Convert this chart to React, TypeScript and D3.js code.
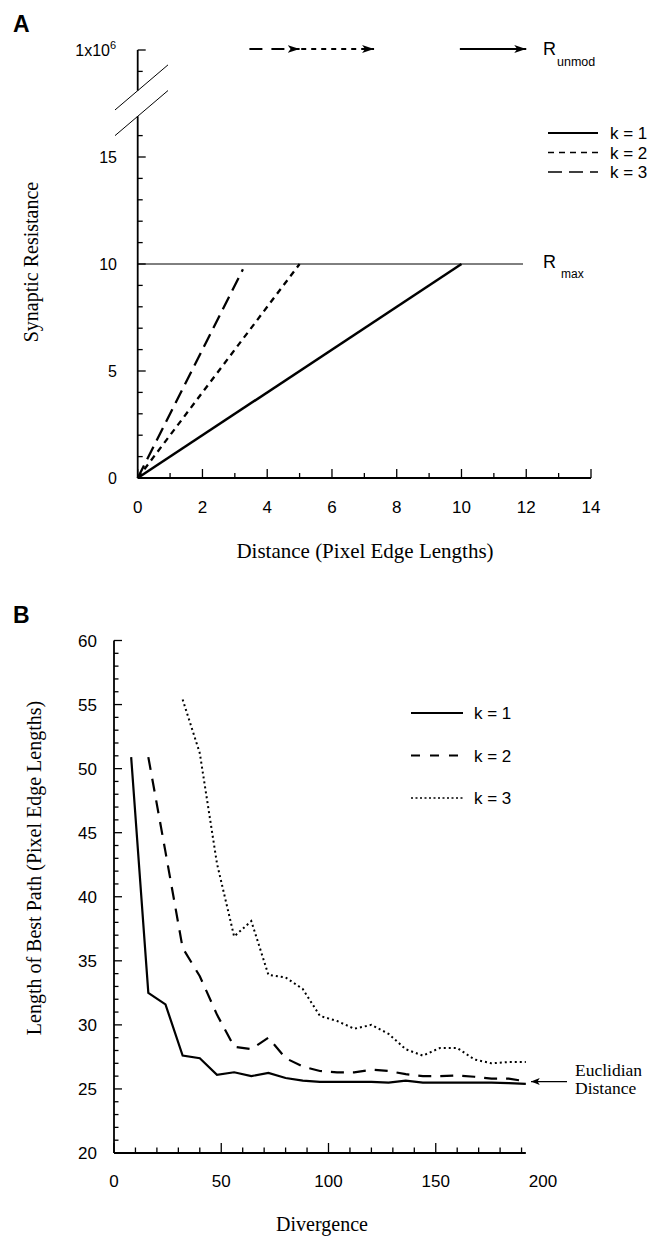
import React from 'react';
import * as d3 from 'd3';

const W = 659;
const H = 1239;

// ---------- Panel A data ----------
const kLabels = ['k = 1', 'k = 2', 'k = 3'];
const distK1 = [0, 10];
const resK1 = [0, 10];
const distK2 = [0, 5];
const resK2 = [0, 10];
const distK3 = [0, 3.25];
const resK3 = [0, 9.75];
const rMax = 10;
const rMaxEnd = 11.9;
const unmodValue = 20; // axis position standing for 1x10^6
const unmodArrowStart = [9.95, 5.05, 3.45]; // k=1, k=2, k=3
const unmodArrowEnd = [12.0, 7.3, 5.0];
const xTicksA = [0, 2, 4, 6, 8, 10, 12, 14];
const yTicksA = [0, 5, 10, 15];
const breakLow = 16.9;
const breakHigh = 18.1;

// ---------- Panel B data ----------
const divergenceK1 = [8, 16, 24, 32, 40, 48, 56, 64, 72, 80, 88, 96, 104, 112, 120, 128, 136, 144, 152, 160, 168, 176, 184, 192];
const pathK1 = [50.9, 32.5, 31.6, 27.6, 27.4, 26.1, 26.3, 26.0, 26.25, 25.85, 25.65, 25.55, 25.55, 25.55, 25.55, 25.5, 25.65, 25.5, 25.5, 25.5, 25.5, 25.5, 25.45, 25.4];
const divergenceK2 = [16, 24, 32, 40, 48, 56, 64, 72, 80, 88, 96, 104, 112, 120, 128, 136, 144, 152, 160, 168, 176, 184, 192];
const pathK2 = [50.9, 43.5, 36.0, 33.8, 30.8, 28.3, 28.1, 29.0, 27.4, 26.75, 26.4, 26.3, 26.3, 26.5, 26.4, 26.15, 26.0, 26.0, 26.05, 25.95, 25.8, 25.8, 25.6];
const divergenceK3 = [32, 40, 48, 56, 64, 72, 80, 88, 96, 104, 112, 120, 128, 136, 144, 152, 160, 168, 176, 184, 192];
const pathK3 = [55.4, 51.2, 42.6, 36.9, 38.1, 33.9, 33.7, 32.8, 30.7, 30.3, 29.7, 30.0, 29.3, 28.1, 27.6, 28.2, 28.2, 27.3, 27.0, 27.1, 27.1];
const euclidian = 25.5;
const xTicksB = [0, 50, 100, 150, 200];
const yTicksB = [20, 25, 30, 35, 40, 45, 50, 55, 60];
const xAxisEndB = 192;

const SANS = '"Liberation Sans", Arial, Helvetica, sans-serif';
const SERIF = '"Liberation Serif", "Times New Roman", serif';

export default function App() {
  // Panel A scales
  const xA = d3.scaleLinear().domain([0, 14]).range([137.7, 591]);
  const yA = d3.scaleLinear().domain([0, 20]).range([478, 50]);
  // Panel B scales
  const xB = d3.scaleLinear().domain([0, 200]).range([114, 543]);
  const yB = d3.scaleLinear().domain([20, 60]).range([1153, 640.5]);

  const lineA = d3.line<[number, number]>().x(d => xA(d[0])).y(d => yA(d[1]));
  const lineB = d3.line<[number, number]>().x(d => xB(d[0])).y(d => yB(d[1]));

  const zip = (a: number[], b: number[]) => a.map((v, i) => [v, b[i]] as [number, number]);

  const dashA = ['none', '6,5', '14,7'];
  const dashB = ['none', '13,9', '2,3'];
  const seriesA = [zip(distK1, resK1), zip(distK2, resK2), zip(distK3, resK3)];
  const seriesB = [zip(divergenceK1, pathK1), zip(divergenceK2, pathK2), zip(divergenceK3, pathK3)];

  const ax0 = xA(0);
  const ay0 = yA(0);
  const bx0 = xB(0);
  const by0 = yB(20);

  const minorYA = d3.range(0, 21).filter(v => v !== 17 && v !== 18);
  const minorXA = d3.range(0, 15);
  const minorYB = d3.range(20, 61);
  const minorXB = d3.range(0, 191, 10);

  const breakY1 = yA(breakHigh);
  const breakY2 = yA(breakLow);

  return (
    <svg width={W} height={H} style={{ position: 'absolute', left: 0, top: 0, background: '#fff' }}>
      <defs>
        <marker id="ah" viewBox="0 0 12 8" refX="12" refY="4" markerWidth="12" markerHeight="8" markerUnits="userSpaceOnUse" orient="auto">
          <path d="M0,0 L12,4 L0,8 L3,4 z" fill="#000" />
        </marker>
        <marker id="ahs" viewBox="0 0 10 8" refX="10" refY="4" markerWidth="9" markerHeight="7" markerUnits="userSpaceOnUse" orient="auto">
          <path d="M0,0 L10,4 L0,8 L2.5,4 z" fill="#000" />
        </marker>
      </defs>

      {/* ================= Panel A ================= */}
      <text x={13} y={32} fontFamily={SANS} fontWeight="bold" fontSize={23}>A</text>

      {/* y axis with break */}
      <line x1={ax0} x2={ax0} y1={ay0} y2={breakY2} stroke="#000" strokeWidth={1.8} />
      <line x1={ax0} x2={ax0} y1={breakY1} y2={yA(unmodValue)} stroke="#000" strokeWidth={1.8} />
      {[breakY1, breakY2].map((yy, i) => (
        <line key={i} x1={ax0 - 22.7} y1={yy + 19.3} x2={ax0 + 30.3} y2={yy - 25.8} stroke="#000" strokeWidth={1} />
      ))}
      {minorYA.map(v => (
        <line key={v} x1={ax0} x2={ax0 + (v % 5 === 0 ? 8 : 5)} y1={yA(v)} y2={yA(v)} stroke="#000" strokeWidth={1.3} />
      ))}
      {yTicksA.map(v => (
        <text key={v} x={117} y={yA(v) + 6} textAnchor="end" fontFamily={SANS} fontSize={16}>{v}</text>
      ))}
      <text x={110} y={yA(unmodValue) + 6} textAnchor="end" fontFamily={SANS} fontSize={16}>1x10</text>
      <text x={110} y={yA(unmodValue) - 1} fontFamily={SANS} fontSize={11}>6</text>

      {/* x axis */}
      <line x1={ax0} x2={xA(14)} y1={ay0} y2={ay0} stroke="#000" strokeWidth={1.8} />
      {minorXA.map(v => (
        <line key={v} x1={xA(v)} x2={xA(v)} y1={ay0} y2={ay0 - (v % 2 === 0 ? 9 : 5)} stroke="#000" strokeWidth={1.3} />
      ))}
      {xTicksA.map(v => (
        <text key={v} x={xA(v)} y={ay0 + 35} textAnchor="middle" fontFamily={SANS} fontSize={17}>{v}</text>
      ))}
      <text x={365} y={558} textAnchor="middle" fontFamily={SERIF} fontSize={21}>Distance (Pixel Edge Lengths)</text>
      <text transform={`translate(38,262) rotate(-90)`} textAnchor="middle" fontFamily={SERIF} fontSize={20}>Synaptic Resistance</text>

      {/* R max line */}
      <line x1={ax0} x2={xA(rMaxEnd)} y1={yA(rMax)} y2={yA(rMax)} stroke="#000" strokeWidth={1} />
      <text x={543} y={268} fontFamily={SANS} fontSize={18}>R</text>
      <text x={561} y={278} fontFamily={SANS} fontSize={12}>max</text>

      {/* data lines */}
      {seriesA.map((s, i) => (
        <path key={i} d={lineA(s) || ''} fill="none" stroke="#000" strokeWidth={i === 0 ? 2.5 : 2.3} strokeDasharray={dashA[i]} />
      ))}

      {/* arrows to R_unmod */}
      {unmodArrowStart.map((s, i) => (
        <line key={i} x1={xA(s)} x2={xA(unmodArrowEnd[i])} y1={yA(unmodValue) - 1} y2={yA(unmodValue) - 1}
          stroke="#000" strokeWidth={2} strokeDasharray={i === 0 ? 'none' : i === 1 ? '5,5' : '13,9'} markerEnd="url(#ah)" />
      ))}
      <text x={543} y={55} fontFamily={SANS} fontSize={18}>R</text>
      <text x={557} y={66} fontFamily={SANS} fontSize={12.5}>unmod</text>

      {/* legend A */}
      {kLabels.map((lab, i) => (
        <g key={i}>
          <line x1={548} x2={598} y1={133 + i * 19.5} y2={133 + i * 19.5} stroke="#000" strokeWidth={i === 0 ? 1.8 : 1.6} strokeDasharray={dashA[i]} />
          <text x={610} y={139 + i * 19.5} fontFamily={SANS} fontSize={17}>{lab}</text>
        </g>
      ))}

      {/* ================= Panel B ================= */}
      <text x={13} y={623} fontFamily={SANS} fontWeight="bold" fontSize={23}>B</text>

      <line x1={bx0} x2={bx0} y1={by0} y2={yB(60)} stroke="#000" strokeWidth={1.8} />
      {minorYB.map(v => (
        <line key={v} x1={bx0} x2={bx0 + (v % 5 === 0 ? 8 : 4.5)} y1={yB(v)} y2={yB(v)} stroke="#000" strokeWidth={1.3} />
      ))}
      {yTicksB.map(v => (
        <text key={v} x={97} y={yB(v) + 6} textAnchor="end" fontFamily={SANS} fontSize={17}>{v}</text>
      ))}

      <line x1={bx0} x2={xB(xAxisEndB)} y1={by0} y2={by0} stroke="#000" strokeWidth={1.8} />
      {minorXB.map(v => (
        <line key={v} x1={xB(v)} x2={xB(v)} y1={by0} y2={by0 - (v % 50 === 0 ? 10 : 5.5)} stroke="#000" strokeWidth={1.3} />
      ))}
      {xTicksB.map(v => (
        <text key={v} x={xB(v)} y={1187} textAnchor="middle" fontFamily={SANS} fontSize={17}>{v}</text>
      ))}
      <text x={322} y={1231} textAnchor="middle" fontFamily={SERIF} fontSize={20}>Divergence</text>
      <text transform={`translate(41,868) rotate(-90)`} textAnchor="middle" fontFamily={SERIF} fontSize={20}>Length of Best Path (Pixel Edge Lengths)</text>

      {seriesB.map((s, i) => (
        <path key={i} d={lineB(s) || ''} fill="none" stroke="#000" strokeWidth={i === 2 ? 2 : 2.2} strokeDasharray={dashB[i]} />
      ))}

      {/* legend B */}
      {kLabels.map((lab, i) => (
        <g key={i}>
          <line x1={411} x2={463} y1={713 + i * 42.5} y2={713 + i * 42.5} stroke="#000" strokeWidth={i === 2 ? 1.6 : 1.8} strokeDasharray={i === 1 ? '9,10' : i === 2 ? '2,2.5' : 'none'} />
          <text x={474} y={719 + i * 42.5} fontFamily={SANS} fontSize={17}>{lab}</text>
        </g>
      ))}

      {/* Euclidian distance arrow */}
      <line x1={567} x2={531} y1={yB(euclidian) - 1} y2={yB(euclidian) - 1} stroke="#000" strokeWidth={1.2} markerEnd="url(#ahs)" />
      <text x={575} y={1076} fontFamily={SERIF} fontSize={17.5}>Euclidian</text>
      <text x={575} y={1094} fontFamily={SERIF} fontSize={17.5}>Distance</text>
    </svg>
  );
}
